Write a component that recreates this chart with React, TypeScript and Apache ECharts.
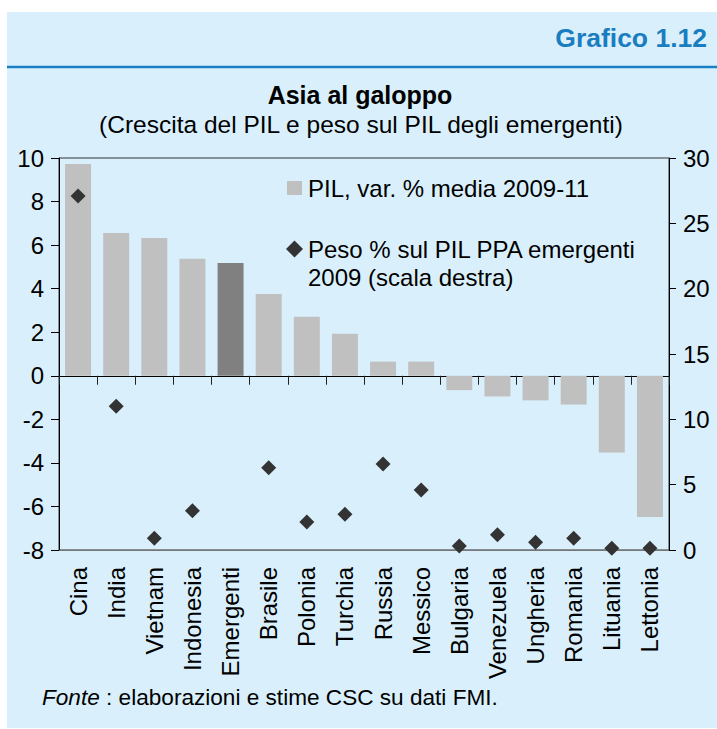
import React, { useEffect, useRef } from "react";
import * as echarts from "echarts";

const categories = [
  "Cina", "India", "Vietnam", "Indonesia", "Emergenti", "Brasile", "Polonia", "Turchia",
  "Russia", "Messico", "Bulgaria", "Venezuela", "Ungheria", "Romania", "Lituania", "Lettonia",
];
// PIL, var. % media 2009-11 (left axis)
const pilGrowth = [9.72, 6.56, 6.33, 5.37, 5.18, 3.76, 2.71, 1.93, 0.65, 0.65, -0.66, -0.95, -1.13, -1.32, -3.52, -6.48];
// Peso % sul PIL PPA emergenti 2009 (right axis)
const pesoPil: (number | null)[] = [27.1, 11.0, 0.9, 3.0, null, 6.3, 2.15, 2.73, 6.58, 4.59, 0.3, 1.17, 0.6, 0.9, 0.13, 0.13];
const highlight = "Emergenti";

const leftTicks = { min: -8, max: 10, interval: 2 };
const rightTicks = { min: 0, max: 30, interval: 5 };

const FONT = "'Liberation Sans', Arial, sans-serif";

export default function App() {
  const ref = useRef<HTMLDivElement>(null);
  useEffect(() => {
    if (!ref.current) return;
    const chart = echarts.init(ref.current, undefined, { renderer: "svg" });
    const barData = pilGrowth.map((v, i) => ({
      value: v,
      itemStyle: { color: categories[i] === highlight ? "#808080" : "#c0c0c0" },
    }));
    chart.setOption({
      animation: false,
      textStyle: { fontFamily: FONT },
      grid: {
        left: 59, right: 48, top: 158, bottom: 179,
        show: true, borderColor: "#333", borderWidth: 1, backgroundColor: "transparent",
        containLabel: false, outerBoundsMode: "none",
      },
      xAxis: [
        {
          type: "category", data: categories, position: "bottom",
          axisLine: { show: true, onZero: true, onZeroAxisIndex: 0, lineStyle: { color: "#000", width: 1 } },
          axisTick: { show: true, interval: 0, length: 9, alignWithLabel: false, lineStyle: { color: "#222" } },
          axisLabel: { show: false },
          splitLine: { show: false },
        },
        {
          type: "category", data: categories, position: "bottom",
          axisLine: { show: true, onZero: false, lineStyle: { color: "#777", width: 1 } },
          axisTick: { show: false },
          axisLabel: { show: true, interval: 0, rotate: 90, margin: 17, fontSize: 24, color: "#000", fontFamily: FONT },
          splitLine: { show: false },
        },
      ],
      yAxis: [
        {
          type: "value", position: "left", ...leftTicks,
          axisLine: { show: true, lineStyle: { color: "#000" } },
          axisTick: { show: true, length: 8, lineStyle: { color: "#000" } },
          axisLabel: { fontSize: 24, color: "#000", margin: 15, fontFamily: FONT },
          splitLine: { show: false },
        },
        {
          type: "value", position: "right", ...rightTicks,
          axisLine: { show: true, lineStyle: { color: "#000" } },
          axisTick: { show: true, length: 7, lineStyle: { color: "#000" } },
          axisLabel: { fontSize: 24, color: "#000", margin: 14, fontFamily: FONT },
          splitLine: { show: false },
        },
      ],
      series: [
        {
          name: "PIL, var. % media 2009-11", type: "bar", xAxisIndex: 0, yAxisIndex: 0,
          data: barData, barWidth: 26,
        },
        {
          name: "Peso % sul PIL PPA emergenti 2009 (scala destra)", type: "scatter",
          xAxisIndex: 0, yAxisIndex: 1, data: pesoPil, symbol: "diamond", symbolSize: 15,
          itemStyle: { color: "#333333", opacity: 1 }, clip: false, z: 5,
        },
      ],
      graphic: [
        { type: "line", shape: { x1: 7, y1: 67, x2: 717, y2: 67 }, style: { stroke: "#1a80c4", lineWidth: 2.5 } },
        {
          type: "text", x: 707, y: 38,
          style: { text: "Grafico 1.12", font: `bold 26.5px ${FONT}`, fill: "#1a7dc0", align: "right", verticalAlign: "middle" },
        },
        {
          type: "text", x: 360, y: 95,
          style: { text: "Asia al galoppo", font: `bold 25px ${FONT}`, fill: "#000", align: "center", verticalAlign: "middle" },
        },
        {
          type: "text", x: 361, y: 124,
          style: { text: "(Crescita del PIL e peso sul PIL degli emergenti)", font: `24.5px ${FONT}`, fill: "#000", align: "center", verticalAlign: "middle" },
        },
        { type: "rect", shape: { x: 287, y: 181, width: 15, height: 14 }, style: { fill: "#c0c0c0" } },
        {
          type: "text", x: 308, y: 188,
          style: { text: "PIL, var. % media 2009-11", font: `24px ${FONT}`, fill: "#000", align: "left", verticalAlign: "middle" },
        },
        {
          type: "polygon", shape: { points: [[286, 249], [294.5, 240.5], [303, 249], [294.5, 257.5]] },
          style: { fill: "#333333" },
        },
        {
          type: "text", x: 308, y: 249,
          style: { text: "Peso % sul PIL PPA emergenti", font: `24px ${FONT}`, fill: "#000", align: "left", verticalAlign: "middle" },
        },
        {
          type: "text", x: 308, y: 277,
          style: { text: "2009 (scala destra)", font: `24px ${FONT}`, fill: "#000", align: "left", verticalAlign: "middle" },
        },
        {
          type: "text", x: 42, y: 697,
          style: {
            text: "{i|Fonte} : elaborazioni e stime CSC su dati FMI.",
            font: `22.6px ${FONT}`, fill: "#000", align: "left", verticalAlign: "middle",
            rich: { i: { fontStyle: "italic", fontSize: 22.6, fontFamily: FONT, fill: "#000" } },
          },
        },
      ],
    });
    return () => chart.dispose();
  }, []);
  return (
    <div style={{ position: "fixed", left: 0, top: 0, width: 717, height: 729, background: "#fff" }}>
      <div style={{ position: "absolute", left: 7, top: 12, width: 710, height: 716, background: "#d9f0fc" }} />
      <div ref={ref} style={{ position: "absolute", left: 0, top: 0, width: 717, height: 729 }} />
    </div>
  );
}
